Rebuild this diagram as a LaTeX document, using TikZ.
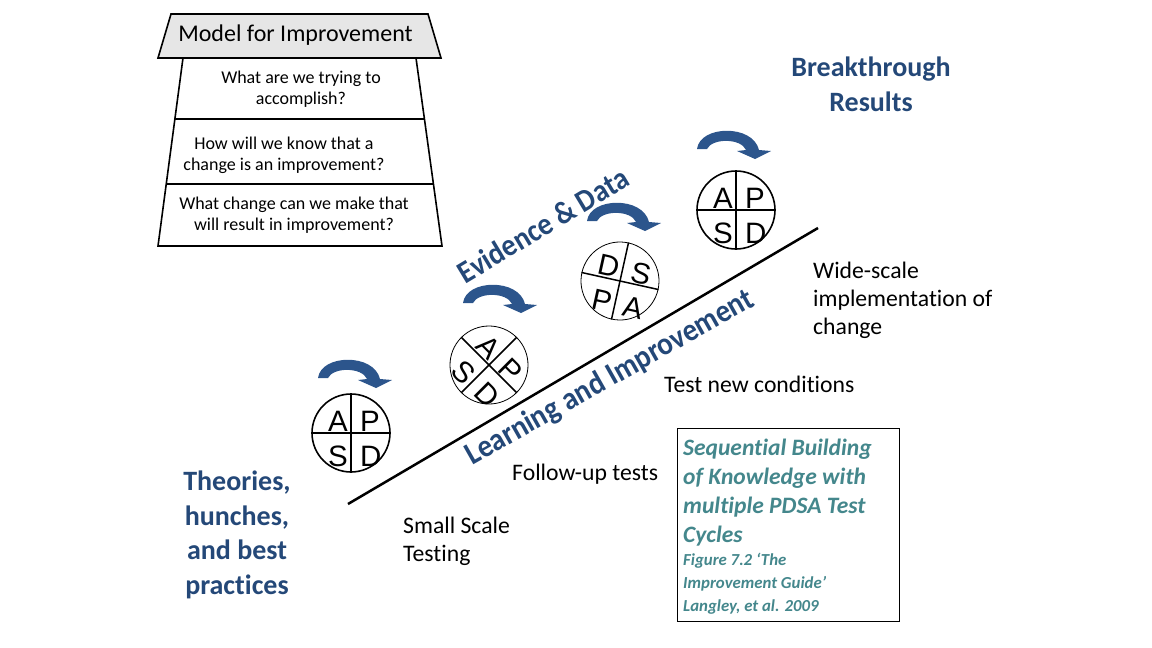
\documentclass[tikz,border=0pt]{standalone}
\usepackage{fontspec}
\setmainfont{Carlito}[Ligatures={NoCommon}]
\newfontfamily\arialf{Liberation Sans}
\usetikzlibrary{calc}
\definecolor{tblue}{RGB}{36,72,120}
\definecolor{ablue}{RGB}{44,85,140}
\definecolor{tealtx}{RGB}{68,135,140}
\definecolor{hdrgray}{RGB}{230,230,230}

\newcommand\curvedarrow[2]{%
  \begin{scope}[shift={(#2)}]
    \fill[carrow] (0,19) .. controls (3,-5) and (56,-6) .. (62,20) -- (74,21) -- (58,29) -- (40,21) -- (49,20) .. controls (44,8) and (15,8) .. (10,19) -- cycle;
    \coordinate (#1) at (37,15);
  \end{scope}}

\newcommand\pdsacircle[8]{%
  \node[ring, line width=#4, rotate=#3] (#1) at (#2) {};
  \draw[divl] (#1.north) -- (#1.south);
  \draw[divl] (#1.west) -- (#1.east);
  \begin{scope}[shift={(#2)}, rotate=#3]
    \node[pdsa, rotate=#3, anchor=base east] (#1tl) at (-3,-2) {#5};
    \node[pdsa, rotate=#3, anchor=base west] (#1tr) at (9,-2) {#6};
    \node[pdsa, rotate=#3, anchor=base east] (#1bl) at (-3,33) {#7};
    \node[pdsa, rotate=#3, anchor=base west] (#1br) at (9,33) {#8};
  \end{scope}}

\newcommand\tallt[1]{\scalebox{1}[1.1]{#1}}

\begin{document}
\begin{tikzpicture}[x=1pt,y=-1pt,
  outl/.style={draw=black, line width=1.6pt, line join=miter},
  qtext/.style={font=\fontsize{18}{21}\selectfont, align=center, inner sep=0},
  btext/.style={font=\fontsize{28}{34.5}\selectfont\bfseries, text=tblue, align=center, inner sep=0},
  ntext/.style={font=\fontsize{23.7}{28}\selectfont, align=left, inner sep=0, anchor=west},
  pdsa/.style={font=\arialf\fontsize{29.5}{29.5}\selectfont, inner sep=0},
  ring/.style={draw=black, circle, minimum size=78pt, inner sep=0},
  divl/.style={draw=black, line width=1.5pt},
  carrow/.style={fill=ablue, draw=none},
  tbig/.style={font=\fontsize{23.5}{29}\selectfont\bfseries\itshape, text=tealtx, anchor=base west, inner sep=0},
  tsmall/.style={font=\fontsize{16.8}{23}\selectfont\bfseries\itshape, text=tealtx, anchor=base west, inner sep=0},
  diag/.style={font=\fontsize{29}{29}\selectfont\bfseries, text=tblue, inner sep=0},
]
\useasboundingbox (0,0) rectangle (1152,648);

% Model for improvement
\coordinate (h1) at (171,14);
\coordinate (h2) at (428,14);
\coordinate (h3) at (441,58);
\coordinate (h4) at (158,58);
\coordinate (b1) at (183,58);
\coordinate (b2) at (416,58);
\coordinate (b3) at (442,246);
\coordinate (b4) at (158,246);
\filldraw[outl, fill=hdrgray] (h1) -- (h2) -- (h3) -- (h4) -- cycle;
\draw[outl] (b1) -- (b4) -- (b3) -- (b2);
\draw[outl] ($(b1)!0.3245!(b4)$) -- ($(b2)!0.3245!(b3)$);
\draw[outl] ($(b1)!0.670!(b4)$) -- ($(b2)!0.670!(b3)$);
\node[inner sep=0, font=\fontsize{24}{28}\selectfont] (hdr) at (295.5,35) {Model for Improvement};
\node[qtext] (q1) at (301,89) {What are we trying to\\accomplish?};
\node[qtext] (q2) at (284,155) {How will we know that a\\change is an improvement?};
\node[qtext] (q3) at (294,215) {What change can we make that\\will result in improvement?};

% main line
\coordinate (l1) at (348,504);
\coordinate (l2) at (818,228);
\draw[line width=2.5pt] (l1) -- (l2);

% diagonal labels
\node[diag, rotate=29.5] (lai) at (610,378) {\tallt{Learning and Improvement}};
\node[diag, rotate=31, font=\fontsize{28.5}{29}\selectfont\bfseries] (evd) at (543,225) {\tallt{Evidence \& Data}};

% PDSA circles
\pdsacircle{c1}{351,433}{0}{1.6pt}{A}{P}{S}{D}
\pdsacircle{c2}{489,365}{-45}{0.8pt}{A}{P}{S}{D}
\pdsacircle{c3}{620,281}{-12.5}{0.8pt}{D}{S}{P}{A}
\pdsacircle{c4}{736,210}{0}{1.6pt}{A}{P}{S}{D}

% curved arrows
\curvedarrow{a1}{318,359}
\curvedarrow{a2}{463,284}
\curvedarrow{a3}{587,202}
\curvedarrow{a4}{697,130}

% blue labels
\node[btext] (brk) at (871,84.5) {Breakthrough\\Results};
\node[btext] (thr) at (237,535) {Theories,\\hunches,\\and best\\practices};

% black labels
\node[ntext] (wide) at (813,300) {Wide-scale\\implementation of\\change};
\node[ntext] (tnc) at (664,384) {Test new conditions};
\node[ntext] (fut) at (512,474) {Follow-up tests};
\node[ntext] (sst) at (403,541) {Small Scale\\Testing};

% reference box
\node[draw=black, line width=0.8pt, minimum width=222pt, minimum height=193pt, anchor=north west, inner sep=0] (box) at (677,428) {};
\node[tbig] (s1) at (683,455) {Sequential Building};
\node[tbig] (s2) at (683,484) {of Knowledge with};
\node[tbig] (s3) at (683,513) {multiple PDSA Test};
\node[tbig] (s4) at (683,542) {Cycles};
\node[tsmall] (s5) at (683,565) {Figure 7.2 ‘The};
\node[tsmall] (s6) at (683,588) {Improvement Guide’};
\node[tsmall] (s7) at (683,611) {Langley, et al. 2009};
\end{tikzpicture}
\end{document}
